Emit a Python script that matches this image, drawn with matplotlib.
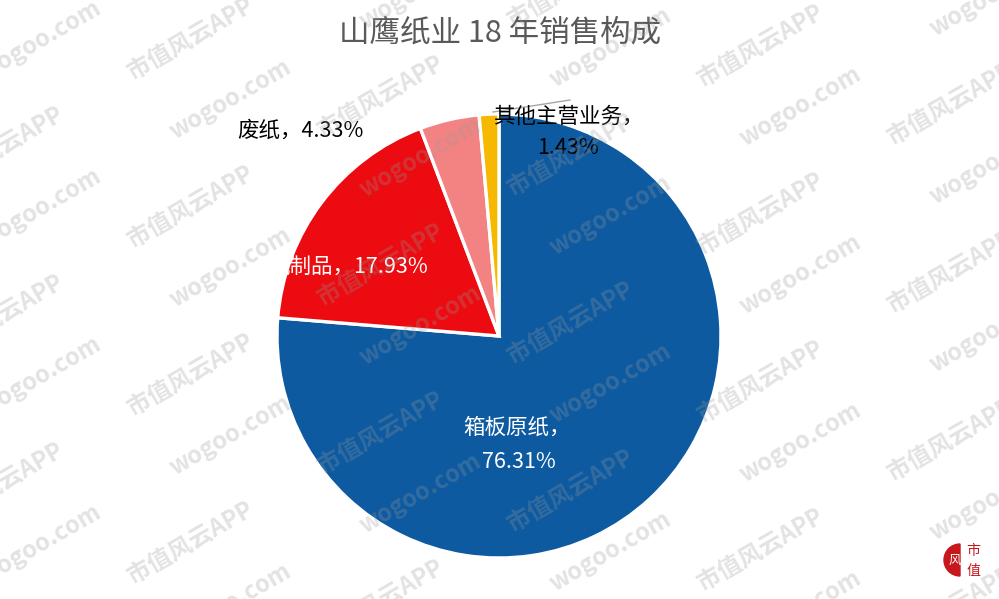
import matplotlib.pyplot as plt
from matplotlib.patches import Wedge
import numpy as np

plt.rcParams['font.family'] = ['Noto Sans CJK SC', 'DejaVu Sans']

# data
labels = ["箱板原纸", "纸制品", "废纸", "其他主营业务"]
shares = [76.31, 17.93, 4.33, 1.43]
colors = ["#0D5AA1", "#EB0B10", "#F28382", "#F6B800"]
title = "山鹰纸业 18 年销售构成"

W, H = 999, 599
fig = plt.figure(figsize=(W / 100, H / 100), dpi=100)
ax = fig.add_axes([0, 0, 1, 1])

# pie drawn in pixel-like data units (y up)
cx, cy, r = 499, H - 336, 222
wedges, _ = ax.pie(shares, colors=colors, startangle=90, counterclock=False,
                   center=(cx, cy), radius=r,
                   wedgeprops=dict(edgecolor="white", linewidth=2.4))
ax.set_xlim(0, W)
ax.set_ylim(0, H)
ax.set_aspect("auto")
ax.axis("off")

def Y(y):
    return H - y

fs = 15.5
# labels
ax.text(517, Y(428), labels[0] + "，", color="white", fontsize=fs, ha="center", va="center")
ax.text(519, Y(462), f"{shares[0]:.2f}%", color="white", fontsize=fs, ha="center", va="center")
ax.text(348, Y(268), f"{labels[1]}，{shares[1]:.2f}%", color="white", fontsize=fs,
        ha="center", va="center", zorder=1)
ax.text(300, Y(131), f"{labels[2]}，{shares[2]:.2f}%", color="black", fontsize=fs,
        ha="center", va="center")
ax.plot([493, 570], [Y(112), Y(100)], color="#A6A6A6", lw=1, zorder=1)
ax.text(568, Y(117), labels[3] + "，", color="black", fontsize=fs, ha="center", va="center")
ax.text(568, Y(148), f"{shares[3]:.2f}%", color="black", fontsize=fs, ha="center", va="center")

ax.text(500, Y(33), title, color="#595959", fontsize=22, ha="center", va="center")

# watermark
t = np.tan(np.radians(30))
marks = ["市值风云APP", "wogoo.com"]
for k in range(-2, 16):
    y0 = -20 + k * 84
    for j in range(-1, 7):
        x = j * 190 + (k % 2) * 40
        y = y0 - x * t
        if -40 < y < H + 40 and -100 < x < W + 100:
            ax.text(x, Y(y), marks[k % 2], rotation=30, fontsize=17, fontweight="bold",
                    color="#999999", alpha=0.28, ha="center", va="center", zorder=5,
                    clip_on=True)

# small logo bottom right
ax.add_patch(Wedge((960, Y(560)), 16, 90, 270, color="#C8161D", zorder=6))
ax.text(955, Y(560), "风", color="white", fontsize=9, ha="center", va="center", zorder=7)
ax.text(973, Y(551), "市", color="#C8161D", fontsize=10, ha="center", va="center", zorder=7)
ax.text(973, Y(571), "值", color="#C8161D", fontsize=10, ha="center", va="center", zorder=7)

fig.savefig("out.png", dpi=100)
